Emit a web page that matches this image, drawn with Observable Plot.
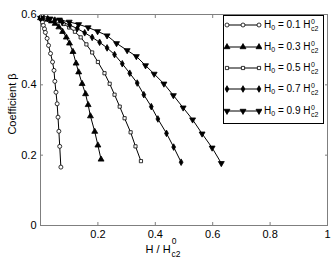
<!DOCTYPE html>
<html><head><meta charset="utf-8">
<script src="https://cdn.jsdelivr.net/npm/d3@7"></script>
<script src="https://cdn.jsdelivr.net/npm/@observablehq/plot@0.6"></script>
<style>
body{margin:0;background:#fff;}
#wrap{position:relative;width:332px;height:265px;font-family:"Liberation Sans",Arial,sans-serif;}
#legend{position:absolute;left:223px;top:15px;width:101px;height:109px;border:1px solid #000;background:#fff;box-sizing:border-box;}
.row{position:absolute;left:0;height:16px;display:flex;align-items:center;font-size:10px;color:#000;white-space:nowrap;}
.row svg{display:block;}
.row .t{margin-left:2px;}
.row sub{font-size:7px;vertical-align:-2px;line-height:0;}
.st{display:inline-flex;flex-direction:column;vertical-align:middle;font-size:7px;line-height:7px;margin-left:0.5px;}
</style>
</head><body>
<div id="wrap"><div id="chart"></div><div id="legend"></div></div>
<script>
// ---- data ----
const h0Labels = ["0.1", "0.3", "0.5", "0.7", "0.9"];
const xH01 = [0, 0.004, 0.007, 0.010, 0.014, 0.017, 0.023, 0.028, 0.035, 0.042, 0.047, 0.050, 0.054, 0.058, 0.061, 0.064, 0.067, 0.071];
const yH01 = [0.590, 0.585, 0.578, 0.569, 0.559, 0.549, 0.532, 0.512, 0.489, 0.465, 0.441, 0.410, 0.379, 0.346, 0.308, 0.268, 0.225, 0.166];
const xH03 = [0, 0.012, 0.025, 0.038, 0.051, 0.064, 0.077, 0.090, 0.101, 0.113, 0.124, 0.133, 0.145, 0.157, 0.166, 0.174, 0.189, 0.200, 0.211];
const yH03 = [0.590, 0.589, 0.586, 0.581, 0.574, 0.564, 0.551, 0.535, 0.518, 0.494, 0.461, 0.436, 0.403, 0.374, 0.343, 0.311, 0.267, 0.228, 0.188];
const xH05 = [0, 0.020, 0.040, 0.060, 0.080, 0.100, 0.120, 0.140, 0.160, 0.180, 0.200, 0.223, 0.241, 0.258, 0.276, 0.293, 0.314, 0.331, 0.350];
const yH05 = [0.590, 0.589, 0.586, 0.581, 0.573, 0.563, 0.551, 0.535, 0.515, 0.492, 0.465, 0.433, 0.403, 0.372, 0.338, 0.305, 0.265, 0.225, 0.183];
const xH07 = [0, 0.025, 0.050, 0.076, 0.102, 0.128, 0.154, 0.180, 0.206, 0.232, 0.258, 0.285, 0.311, 0.337, 0.360, 0.386, 0.409, 0.439, 0.464, 0.490];
const yH07 = [0.590, 0.588, 0.584, 0.578, 0.570, 0.560, 0.548, 0.535, 0.521, 0.505, 0.486, 0.460, 0.433, 0.405, 0.372, 0.338, 0.303, 0.262, 0.223, 0.180];
const xH09 = [0, 0.033, 0.066, 0.100, 0.133, 0.166, 0.199, 0.232, 0.265, 0.302, 0.334, 0.366, 0.396, 0.430, 0.463, 0.497, 0.530, 0.563, 0.598, 0.630];
const yH09 = [0.590, 0.588, 0.585, 0.579, 0.572, 0.563, 0.552, 0.540, 0.518, 0.498, 0.481, 0.455, 0.431, 0.403, 0.370, 0.335, 0.301, 0.261, 0.221, 0.177];
const xTicks = [0, 0.2, 0.4, 0.6, 0.8, 1];
const xTickLabels = ["", "0.2", "0.4", "0.6", "0.8", "1"];
const yTicks = [0, 0.2, 0.4, 0.6];
const yTickLabels = ["0", "0.2", "0.4", "0.6"];

// ---- styles ----
const styles = [
  {symbol: "circle", fill: "white", rotate: 0, r: 2.0},
  {symbol: "triangle", fill: "black", rotate: 0, r: 2.2},
  {symbol: "square", fill: "white", rotate: 0, r: 1.8},
  {symbol: "diamond", fill: "black", rotate: 0, r: 2.0},
  {symbol: "triangle", fill: "black", rotate: 180, r: 2.2}
];
const xs = [xH01, xH03, xH05, xH07, xH09];
const ys = [yH01, yH03, yH05, yH07, yH09];
const series = h0Labels.map((k, j) => xs[j].map((x, i) => ({k, x, y: ys[j][i]})));
const rows = series.flat();

const axisGray = "#7f7f7f";
const marks = [
  Plot.frame({stroke: axisGray}),
  Plot.line(rows, {x: "x", y: "y", z: "k", stroke: "black", strokeWidth: 1}),
  ...series.map((d, j) => Plot.dot(d, {x: "x", y: "y", symbol: () => styles[j].symbol, r: styles[j].r, rotate: styles[j].rotate, fill: styles[j].fill, stroke: "black", strokeWidth: 0.8})),
  // inward ticks on all four sides
  Plot.axisX(xTicks, {anchor: "bottom", tickSize: -3, fill: "none", stroke: axisGray}),
  Plot.axisX(xTicks, {anchor: "top", tickSize: -3, fill: "none", stroke: axisGray, label: null}),
  Plot.axisY(yTicks, {anchor: "left", tickSize: -3, fill: "none", stroke: axisGray}),
  Plot.axisY(yTicks, {anchor: "right", tickSize: -3, fill: "none", stroke: axisGray, label: null}),
  // labels
  Plot.axisX(xTicks, {anchor: "bottom", tickSize: 0, tickPadding: 5, stroke: "none", fill: "black", tickFormat: (d, i) => xTickLabels[i], label: null}),
  Plot.axisY(yTicks, {anchor: "left", tickSize: 0, tickPadding: 4, stroke: "none", fill: "black", tickFormat: (d, i) => yTickLabels[i], label: null})
];

const chart = Plot.plot({
  width: 332, height: 265,
  marginLeft: 40, marginRight: 5, marginTop: 14, marginBottom: 40,
  style: {fontFamily: "'Liberation Sans', Arial, sans-serif", fontSize: "11px", color: "black", background: "white"},
  x: {domain: [0, 1]},
  y: {domain: [0, 0.6]},
  marks
});
document.getElementById("chart").appendChild(chart);

// axis titles
const svg = d3.select(chart);
svg.append("text")
  .attr("transform", "translate(15.5,104) rotate(-90)")
  .attr("text-anchor", "middle")
  .attr("font-size", 11).attr("fill", "black")
  .text("Coefficient β");
const xl = svg.append("text").attr("x", 163).attr("y", 253).attr("font-size", 11).attr("fill", "black");
xl.append("tspan").text("H / H");
xl.append("tspan").attr("font-size", 8.5).attr("dy", -9).attr("dx", 1).text("0");
xl.append("tspan").attr("font-size", 8.5).attr("dy", 13).attr("dx", -5).text("c2");

// legend
const leg = d3.select("#legend");
const rowTops = [9, 31, 52, 73, 95];
h0Labels.forEach((lab, j) => {
  const row = leg.append("div").attr("class", "row").style("top", (rowTops[j] - 8) + "px");
  const s = row.append("svg").attr("width", 38).attr("height", 16);
  s.append("line").attr("x1", 3).attr("x2", 35).attr("y1", 8).attr("y2", 8).attr("stroke", "black").attr("stroke-width", 1);
  const sym = {circle: d3.symbolCircle, triangle: d3.symbolTriangle, square: d3.symbolSquare, diamond: d3.symbolDiamond}[styles[j].symbol];
  [3, 19, 35].forEach(cx => {
    s.append("path")
      .attr("d", d3.symbol(sym, Math.PI * styles[j].r * styles[j].r)())
      .attr("transform", `translate(${cx},8) rotate(${styles[j].rotate})`)
      .attr("fill", styles[j].fill).attr("stroke", "black").attr("stroke-width", 0.8);
  });
  row.append("span").attr("class", "t")
    .html(`H<sub>0</sub> = ${lab} H<span class="st"><span>0</span><span>c2</span></span>`);
});
</script>
</body></html>
